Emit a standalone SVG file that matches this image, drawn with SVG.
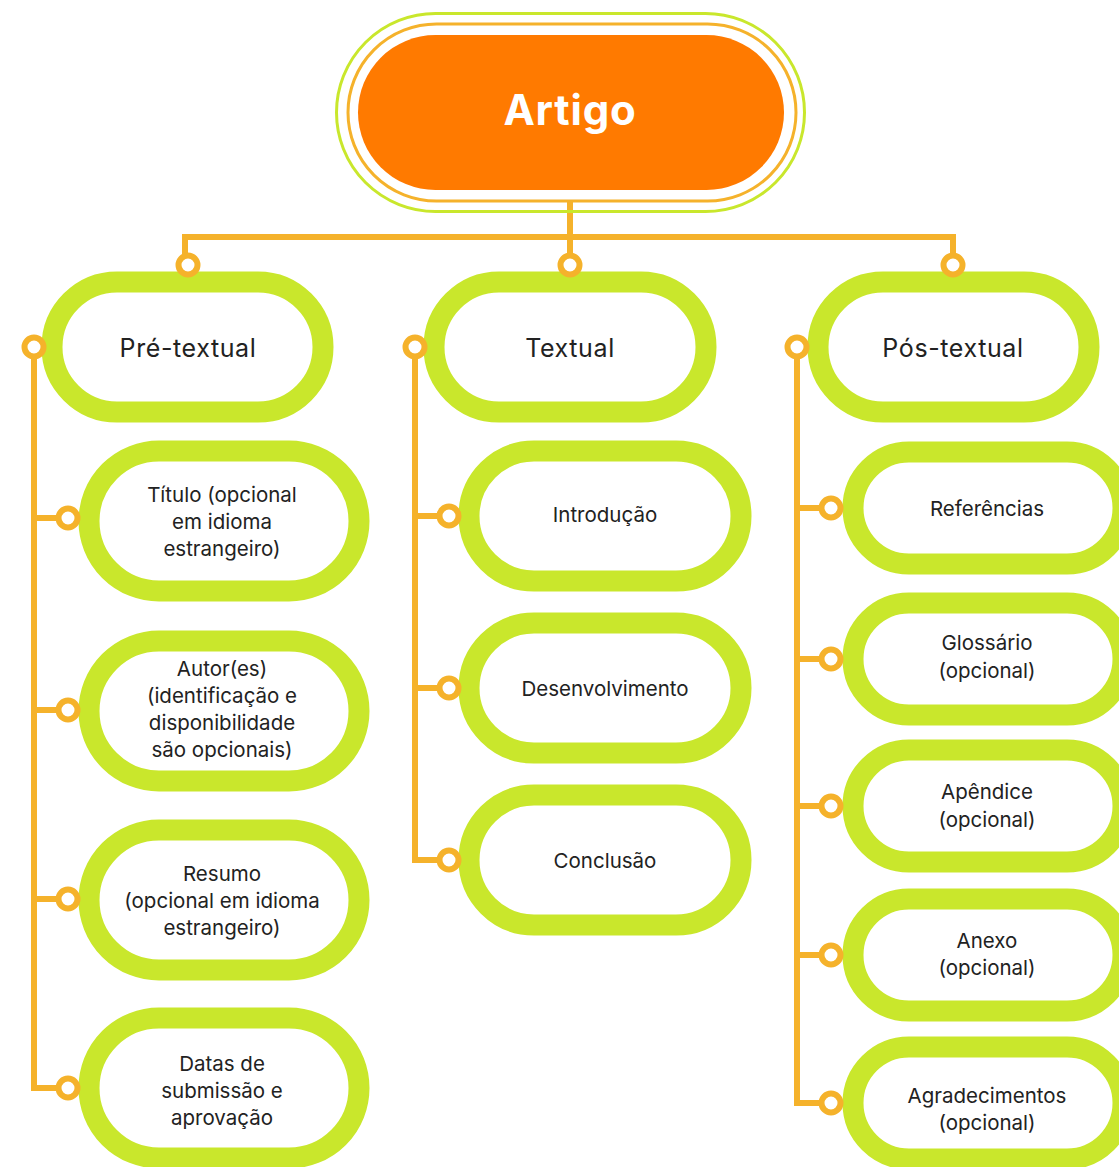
<svg xmlns="http://www.w3.org/2000/svg" width="1119" height="1167" viewBox="0 0 1119 1167">
<style>
.pill{fill:#fff;stroke:#C9E72C;stroke-width:21}
.ln{fill:none;stroke:#F5B22B;stroke-width:6;stroke-linejoin:miter}
.dot{fill:#fff;stroke:#F5B22B;stroke-width:6}
.t{font-family:Inter,"Noto Sans","Liberation Sans",sans-serif;fill:#222;text-anchor:middle;font-size:20.5px}
.h{font-size:25px;letter-spacing:0.6px}
.root{font-family:Inter,"Noto Sans","Liberation Sans",sans-serif;font-weight:700;font-size:42px;letter-spacing:0.8px;fill:#fff;text-anchor:middle}
</style>
<rect width="1119" height="1167" fill="#fff"/>
<g id="connectors">
<path class="ln" d="M570 202V265M185 265V237H953V265" stroke-width="7"/>
<path class="ln" d="M34 347V1088H68M34 518H68M34 710H68M34 899H68"/>
<path class="ln" d="M415 347V860H449M415 516H449M415 688H449"/>
<path class="ln" d="M797 347V1103H831M797 508H831M797 659H831M797 806H831M797 955H831"/>
</g>
<g id="artigo">
<rect x="336.5" y="13.5" width="468" height="198" rx="99" fill="none" stroke="#C9E72C" stroke-width="3"/>
<rect x="348" y="24" width="448" height="177" rx="88.5" fill="none" stroke="#F5B22B" stroke-width="3"/>
<rect x="358" y="35" width="426" height="155" rx="77.5" fill="#FF7A00"/>
<text class="root" x="570" y="125">Artigo</text>
</g>
<g id="pre-textual"><rect class="pill" x="52" y="282" width="271" height="130" rx="65"/><text class="t h" x="188" y="357">Pré-textual</text></g>
<g id="textual"><rect class="pill" x="434" y="282" width="272" height="130" rx="65"/><text class="t h" x="570" y="357">Textual</text></g>
<g id="pos-textual"><rect class="pill" x="818" y="282" width="271" height="130" rx="65"/><text class="t h" x="953" y="357">Pós-textual</text></g>

<g id="titulo"><rect class="pill" x="89" y="451" width="270" height="140" rx="70"/><text class="t"><tspan x="222" y="502">Título (opcional</tspan><tspan x="222" y="529">em idioma</tspan><tspan x="222" y="556">estrangeiro)</tspan></text></g>
<g id="autor"><rect class="pill" x="89" y="641" width="270" height="140" rx="70"/><text class="t"><tspan x="222" y="676">Autor(es)</tspan><tspan x="222" y="703">(identificação e</tspan><tspan x="222" y="730">disponibilidade</tspan><tspan x="222" y="757">são opcionais)</tspan></text></g>
<g id="resumo"><rect class="pill" x="89" y="830" width="270" height="140" rx="70"/><text class="t"><tspan x="222" y="881">Resumo</tspan><tspan x="222" y="908">(opcional em idioma</tspan><tspan x="222" y="935">estrangeiro)</tspan></text></g>
<g id="datas"><rect class="pill" x="89" y="1018" width="270" height="140" rx="70"/><text class="t"><tspan x="222" y="1071">Datas de</tspan><tspan x="222" y="1098">submissão e</tspan><tspan x="222" y="1125">aprovação</tspan></text></g>

<g id="introducao"><rect class="pill" x="469" y="451" width="272" height="130" rx="65"/><text class="t" x="605" y="522">Introdução</text></g>
<g id="desenvolvimento"><rect class="pill" x="469" y="623" width="272" height="130" rx="65"/><text class="t" x="605" y="696">Desenvolvimento</text></g>
<g id="conclusao"><rect class="pill" x="469" y="795" width="272" height="130" rx="65"/><text class="t" x="605" y="868">Conclusão</text></g>

<g id="referencias"><rect class="pill" x="853" y="452" width="270" height="112" rx="56"/><text class="t" x="987" y="516">Referências</text></g>
<g id="glossario"><rect class="pill" x="853" y="603" width="270" height="112" rx="56"/><text class="t"><tspan x="987" y="650">Glossário</tspan><tspan x="987" y="678">(opcional)</tspan></text></g>
<g id="apendice"><rect class="pill" x="853" y="750" width="270" height="112" rx="56"/><text class="t"><tspan x="987" y="799">Apêndice</tspan><tspan x="987" y="827">(opcional)</tspan></text></g>
<g id="anexo"><rect class="pill" x="853" y="899" width="270" height="112" rx="56"/><text class="t"><tspan x="987" y="948">Anexo</tspan><tspan x="987" y="975">(opcional)</tspan></text></g>
<g id="agradecimentos"><rect class="pill" x="853" y="1047" width="270" height="112" rx="56"/><text class="t"><tspan x="987" y="1103">Agradecimentos</tspan><tspan x="987" y="1130">(opcional)</tspan></text></g>

<g id="dots">
<circle class="dot" cx="570" cy="265" r="9.5"/><circle class="dot" cx="188" cy="265" r="9.5"/><circle class="dot" cx="953" cy="265" r="9.5"/>
<circle class="dot" cx="34" cy="347" r="9.5"/><circle class="dot" cx="415" cy="347" r="9.5"/><circle class="dot" cx="797" cy="347" r="9.5"/>
<circle class="dot" cx="68" cy="518" r="9.5"/><circle class="dot" cx="68" cy="710" r="9.5"/><circle class="dot" cx="68" cy="899" r="9.5"/><circle class="dot" cx="68" cy="1088" r="9.5"/>
<circle class="dot" cx="449" cy="516" r="9.5"/><circle class="dot" cx="449" cy="688" r="9.5"/><circle class="dot" cx="449" cy="860" r="9.5"/>
<circle class="dot" cx="831" cy="508" r="9.5"/><circle class="dot" cx="831" cy="659" r="9.5"/><circle class="dot" cx="831" cy="806" r="9.5"/><circle class="dot" cx="831" cy="955" r="9.5"/><circle class="dot" cx="831" cy="1103" r="9.5"/>
</g>
</svg>
